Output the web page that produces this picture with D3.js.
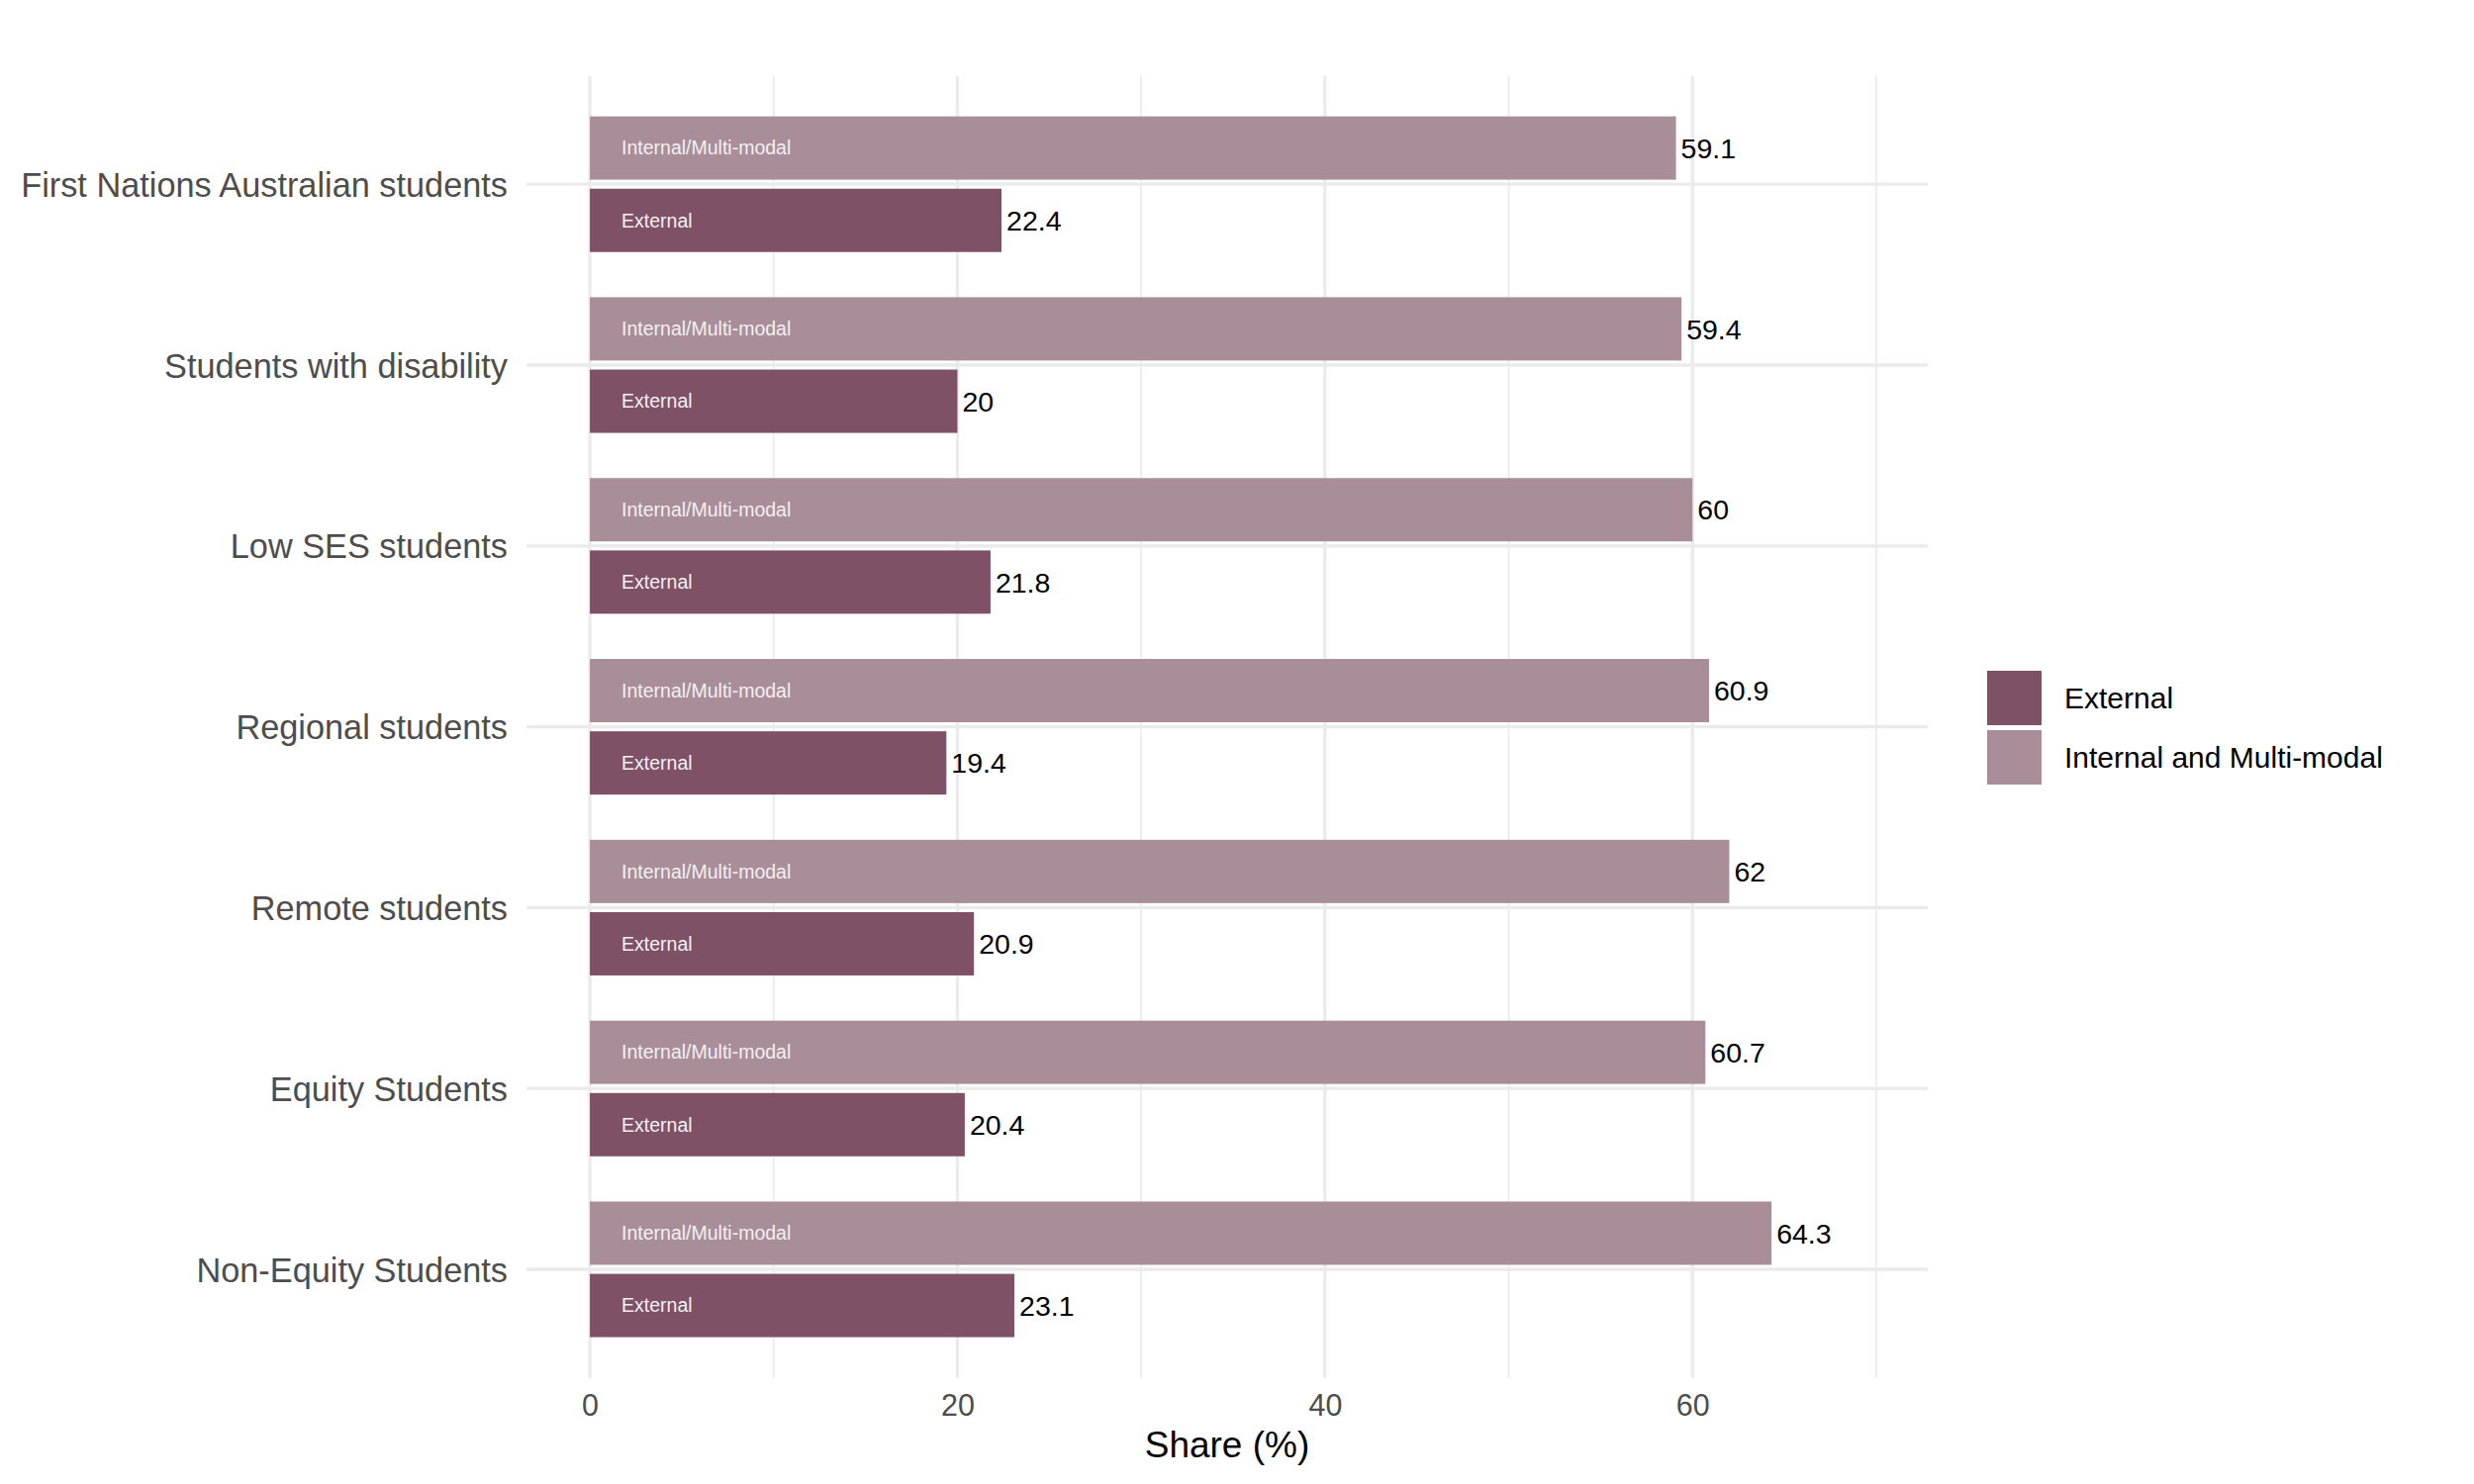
<!DOCTYPE html>
<html>
<head>
<meta charset="utf-8">
<script src="https://cdn.jsdelivr.net/npm/d3@7"></script>
<style>
  html, body { margin: 0; padding: 0; background: #ffffff; }
  svg { display: block; }
  text { font-family: "Liberation Sans", Arial, Helvetica, sans-serif; }
</style>
</head>
<body>
<script>
// ---- data ----
const categories = [
  "First Nations Australian students",
  "Students with disability",
  "Low SES students",
  "Regional students",
  "Remote students",
  "Equity Students",
  "Non-Equity Students"
];
const internalValues = [59.1, 59.4, 60, 60.9, 62, 60.7, 64.3];
const externalValues = [22.4, 20, 21.8, 19.4, 20.9, 20.4, 23.1];
const seriesNames = ["External", "Internal and Multi-modal"];
const barLabels = { "External": "External", "Internal and Multi-modal": "Internal/Multi-modal" };
const majorTicks = [0, 20, 40, 60];
const minorTicks = [10, 30, 50, 70];
const xTitle = "Share (%)";

// ---- layout ----
const W = 2500, H = 1500;
const panel = { left: 532, right: 1948, top: 76.5, bottom: 1392.7 };
const colors = { "External": "#7e5166", "Internal and Multi-modal": "#a98e9a" };

const svg = d3.select("body").append("svg").attr("width", W).attr("height", H);

const x = d3.scaleLinear().domain([-3.45, 72.8]).range([panel.left, panel.right]);
const y = d3.scalePoint().domain(categories).range([panel.top, panel.bottom]).padding(0.6);
const step = y.step();

// dodge: internal on top, external below
const dodge = d3.scaleBand().domain(["Internal and Multi-modal", "External"])
  .range([-0.4 * step, 0.4 * step]).paddingInner(0.125).paddingOuter(0.0625);

const rows = [];
categories.forEach((c, i) => {
  rows.push({ cat: c, series: "Internal and Multi-modal", value: internalValues[i] });
  rows.push({ cat: c, series: "External", value: externalValues[i] });
});

// gridlines
const grid = svg.append("g");
grid.selectAll("line.minor").data(minorTicks).join("line")
  .attr("x1", d => x(d)).attr("x2", d => x(d))
  .attr("y1", panel.top).attr("y2", panel.bottom)
  .attr("stroke", "#ebebeb").attr("stroke-width", 1.7);
grid.selectAll("line.majorx").data(majorTicks).join("line")
  .attr("x1", d => x(d)).attr("x2", d => x(d))
  .attr("y1", panel.top).attr("y2", panel.bottom)
  .attr("stroke", "#ebebeb").attr("stroke-width", 3.3);
grid.selectAll("line.majory").data(categories).join("line")
  .attr("x1", panel.left).attr("x2", panel.right)
  .attr("y1", d => y(d)).attr("y2", d => y(d))
  .attr("stroke", "#ebebeb").attr("stroke-width", 3.3);

// bars
const barG = svg.append("g");
barG.selectAll("rect").data(rows).join("rect")
  .attr("x", x(0))
  .attr("y", d => y(d.cat) + dodge(d.series))
  .attr("width", d => x(d.value) - x(0))
  .attr("height", dodge.bandwidth())
  .attr("fill", d => colors[d.series]);

// inner labels
barG.selectAll("text.inner").data(rows).join("text")
  .attr("class", "inner")
  .attr("x", x(0) + 32)
  .attr("y", d => y(d.cat) + dodge(d.series) + dodge.bandwidth() / 2)
  .attr("dy", "0.35em")
  .attr("font-size", 19.5)
  .attr("fill", "#f4eff1")
  .text(d => barLabels[d.series]);

// value labels
barG.selectAll("text.val").data(rows).join("text")
  .attr("class", "val")
  .attr("x", d => x(d.value) + 5)
  .attr("y", d => y(d.cat) + dodge(d.series) + dodge.bandwidth() / 2)
  .attr("dy", "0.36em")
  .attr("font-size", 28.5)
  .attr("fill", "#000000")
  .text(d => d.value);

// y axis labels
const yAxis = d3.axisLeft(y).tickSize(0).tickPadding(19);
const yg = svg.append("g").attr("transform", `translate(${panel.left},0)`).call(yAxis);
yg.select(".domain").remove();
yg.selectAll("text").attr("font-size", 34.3).attr("fill", "#4d4d4d")
  .attr("font-family", '"Liberation Sans", Arial, sans-serif').attr("dy", "0.35em");

// x axis labels
const xAxis = d3.axisBottom(x).tickValues(majorTicks).tickSize(0).tickPadding(0);
const xg = svg.append("g").attr("transform", `translate(0,${panel.bottom})`).call(xAxis);
xg.select(".domain").remove();
xg.selectAll("text").attr("font-size", 30.5).attr("fill", "#4d4d4d")
  .attr("font-family", '"Liberation Sans", Arial, sans-serif')
  .attr("y", 28).attr("dy", "0.35em");

// x title
svg.append("text")
  .attr("x", (x(-3.45) + x(72.8)) / 2)
  .attr("y", 1472.5)
  .attr("text-anchor", "middle")
  .attr("font-size", 37)
  .attr("fill", "#000000")
  .text(xTitle);

// legend
const legend = svg.append("g").attr("transform", "translate(2008,678)");
const lg = legend.selectAll("g").data(seriesNames).join("g")
  .attr("transform", (d, i) => `translate(0,${i * 60})`);
lg.append("rect").attr("width", 55).attr("height", 55).attr("fill", d => colors[d]);
lg.append("text").attr("x", 78).attr("y", 27.5).attr("dy", "0.35em")
  .attr("font-size", 30).attr("fill", "#000000").text(d => d);
</script>
</body>
</html>
